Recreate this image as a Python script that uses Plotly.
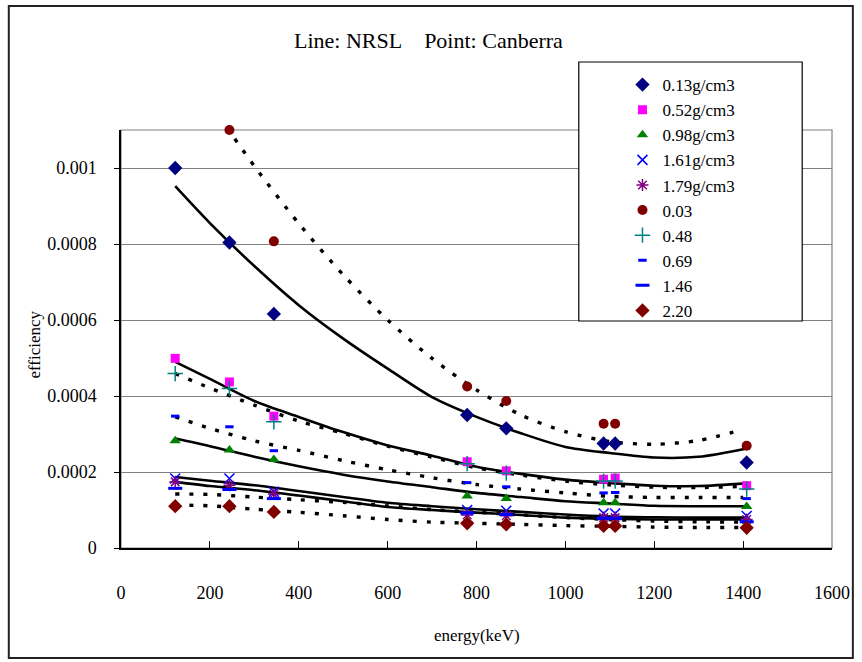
import plotly.graph_objects as go

# ---------------- data ----------------
energies_pts = [122, 244, 344, 779, 867, 1086, 1112, 1408]

# Canberra points
pts_013 = [0.00100, 0.000804, 0.000616, 0.000350, 0.000315, 0.000275, 0.000275, 0.000225]
pts_052 = [0.000499, 0.000437, 0.000347, 0.000227, 0.000203, 0.000181, 0.000184, 0.000164]
pts_098 = [0.000282, 0.000258, 0.000233, 0.000137, 0.000130, 0.000119, 0.000119, 0.000109]
pts_161 = [0.000183, 0.000183, 0.000148, 0.000100, 0.000098, 0.000091, 0.000091, 0.000084]
pts_179 = [0.000174, 0.000165, 0.000142, 0.000087, 0.000085, 0.000080, 0.000080, 0.000075]
pts_003 = [None, 0.00110, 0.000807, 0.000425, 0.000387, 0.000327, 0.000327, 0.000269]
pts_048 = [0.000459, 0.000420, 0.000332, 0.000222, 0.000197, 0.000176, 0.000176, 0.000155]
pts_069 = [0.000347, 0.000319, 0.000256, 0.000172, 0.000161, 0.000145, 0.000146, 0.000130]
pts_146 = [0.000157, 0.000154, 0.000130, 0.000092, 0.000088, 0.000078, 0.000078, 0.000069]
pts_220 = [0.000110, 0.000110, 0.000095, 0.000065, 0.000062, 0.000058, 0.000058, 0.000053]

# NRSL curves (solid)
energies_solid = [122, 200, 300, 400, 500, 600, 700, 800, 900, 1000, 1100, 1200, 1300, 1408]
line_013 = [0.000952, 0.000855, 0.000742, 0.000639, 0.000551, 0.000472, 0.000397, 0.000345,
            0.000302, 0.000266, 0.000250, 0.000238, 0.000240, 0.000262]
line_052 = [0.000490, 0.000445, 0.000387, 0.000345, 0.000305, 0.000270, 0.000243, 0.000214,
            0.000195, 0.000180, 0.000171, 0.000164, 0.000163, 0.000170]
line_098 = [0.000288, 0.000268, 0.000240, 0.000215, 0.000193, 0.000175, 0.000160, 0.000145,
            0.000134, 0.000123, 0.000117, 0.000111, 0.000110, 0.000110]
line_161 = [0.000187, 0.000177, 0.000165, 0.000150, 0.000134, 0.000119, 0.000110, 0.000102,
            0.000095, 0.000088, 0.000083, 0.000081, 0.000080, 0.000080]
line_179 = [0.000174, 0.000163, 0.000152, 0.000138, 0.000123, 0.000108, 0.000100, 0.000093,
            0.000087, 0.000080, 0.000077, 0.000075, 0.000075, 0.000075]

# NRSL curves (dotted)
energies_dot = [122, 200, 300, 400, 500, 600, 700, 800, 900, 1000, 1100, 1200, 1300, 1400]
energies_dot_003 = [256, 300, 400, 500, 600, 700, 800, 900, 1000, 1100, 1200, 1300, 1400]
line_003 = [0.001077, 0.001005, 0.000854, 0.000719, 0.000600, 0.000499, 0.000416, 0.000350,
            0.000306, 0.000280, 0.000273, 0.000283, 0.000312]
line_048 = [0.000459, 0.000421, 0.000376, 0.000334, 0.000302, 0.000268, 0.000239, 0.000211,
            0.000192, 0.000176, 0.000166, 0.000160, 0.000159, 0.000162]
line_069 = [0.000345, 0.000315, 0.000282, 0.000257, 0.000230, 0.000206, 0.000185, 0.000167,
            0.000155, 0.000145, 0.000136, 0.000133, 0.000133, 0.000133]
line_146 = [0.000142, 0.000141, 0.000134, 0.000127, 0.000120, 0.000111, 0.000101, 0.000094,
            0.000087, 0.000080, 0.000075, 0.000071, 0.000069, 0.000068]
line_220 = [0.000113, 0.000111, 0.000102, 0.000094, 0.000085, 0.000075, 0.000068, 0.000065,
            0.000062, 0.000059, 0.000057, 0.000055, 0.000054, 0.000054]

y_tickvals = [0, 0.0002, 0.0004, 0.0006, 0.0008, 0.001]
y_ticktext = ["0", "0.0002", "0.0004", "0.0006", "0.0008", "0.001"]
x_tickvals = [0, 200, 400, 600, 800, 1000, 1200, 1400, 1600]

FONT = "Liberation Serif, DejaVu Serif, serif"

fig = go.Figure()

# ---- lines ----
solid = [(energies_solid, line_013), (energies_solid, line_052), (energies_solid, line_098),
         (energies_solid, line_161), (energies_solid, line_179)]
dotted = [(energies_dot_003, line_003), (energies_dot, line_048), (energies_dot, line_069),
          (energies_dot, line_146), (energies_dot, line_220)]
for xs, ys in solid:
    fig.add_trace(go.Scatter(x=xs, y=ys, mode="lines", showlegend=False, hoverinfo="skip",
                             line=dict(color="black", width=2.6, shape="spline", smoothing=0.8)))
for xs, ys in dotted:
    fig.add_trace(go.Scatter(x=xs, y=ys, mode="lines", showlegend=False, hoverinfo="skip",
                             line=dict(color="black", width=3.4, shape="spline", smoothing=0.8,
                                       dash="4px,10px")))

# ---- points ----
series = [
    ("0.13g/cm3", pts_013, dict(symbol="diamond", color="#000080", size=11)),
    ("0.52g/cm3", pts_052, dict(symbol="square", color="#FF00FF", size=9)),
    ("0.98g/cm3", pts_098, dict(symbol="triangle-up", color="#008000", size=10)),
    ("1.61g/cm3", pts_161, dict(symbol="x-thin-open", color="#0000FF", size=10,
                                line=dict(color="#0000FF", width=1.5))),
    ("1.79g/cm3", pts_179, dict(symbol="asterisk-open", color="#800080", size=10,
                                line=dict(color="#800080", width=1.5))),
    ("0.03", pts_003, dict(symbol="circle", color="#800000", size=10)),
    ("0.48", pts_048, dict(symbol="cross-thin-open", color="#008080", size=11,
                           line=dict(color="#008080", width=1.5))),
    ("0.69", pts_069, dict(symbol="line-ew-open", color="#0000FF", size=6,
                           line=dict(color="#0000FF", width=3))),
    ("1.46", pts_146, dict(symbol="line-ew-open", color="#0000FF", size=10,
                           line=dict(color="#0000FF", width=3))),
    ("2.20", pts_220, dict(symbol="diamond", color="#800000", size=11)),
]
for name, ys, mk in series:
    fig.add_trace(go.Scatter(x=energies_pts, y=ys, mode="markers", name=name, marker=mk,
                             cliponaxis=False))

# plot-area gray border, legend box, outer frame
fig.add_shape(type="rect", xref="paper", yref="paper", x0=0, y0=0, x1=1, y1=1,
              line=dict(color="#808080", width=1.2), layer="below")
fig.add_shape(type="rect", xref="paper", yref="paper",
              x0=(582 - 121) / 716, x1=(807 - 121) / 716,
              y0=(548 - 321) / 418, y1=(548 - 62) / 418,
              line=dict(color="black", width=1.2), fillcolor="white", layer="above")
fig.add_shape(type="rect", xref="paper", yref="paper",
              x0=(8 - 121) / 716, x1=(858 - 121) / 716,
              y0=(548 - 658) / 418, y1=(548 - 6) / 418,
              line=dict(color="#222222", width=2), layer="above")

fig.add_annotation(text="efficiency", xref="paper", yref="paper",
                   x=(33 - 121) / 716, y=(548 - 345) / 418, textangle=-90, showarrow=False,
                   xanchor="center", yanchor="middle",
                   font=dict(family=FONT, size=17, color="black"))
fig.add_annotation(text="energy(keV)", xref="paper", yref="paper",
                   x=0.5, y=(548 - 635) / 418, showarrow=False,
                   xanchor="center", yanchor="middle",
                   font=dict(family=FONT, size=17, color="black"))

fig.update_layout(
    width=862, height=662,
    margin=dict(l=121, r=25, t=130, b=114),
    paper_bgcolor="white", plot_bgcolor="white",
    title=dict(text="Line: NRSL\u00a0\u00a0\u00a0\u00a0Point: Canberra", x=0.497, xanchor="center",
               y=1 - 40 / 662, yanchor="middle", yref="container",
               font=dict(family=FONT, size=22, color="black")),
    font=dict(family=FONT, color="black"),
    showlegend=True,
    legend=dict(x=(626 - 121) / 716, y=(548 - 67) / 418, xanchor="left", yanchor="top",
                bgcolor="rgba(0,0,0,0)", borderwidth=0,
                font=dict(family=FONT, size=17, color="black"), tracegroupgap=0),
    xaxis=dict(range=[0, 1600], tickvals=x_tickvals, showgrid=False, zeroline=False,
               showline=True, linecolor="black", linewidth=1.5,
               ticks="inside", ticklen=7, tickcolor="black",
               ticklabelstandoff=28,
               tickfont=dict(family=FONT, size=18, color="black")),
    yaxis=dict(range=[0, 0.0011], tickvals=y_tickvals, ticktext=y_ticktext,
               showgrid=True, gridcolor="#808080", gridwidth=1, zeroline=False,
               showline=True, linecolor="black", linewidth=1.5,
               ticks="outside", ticklen=5, tickcolor="black",
               ticklabelstandoff=14,
               tickfont=dict(family=FONT, size=18, color="black")),
)

fig.write_html("out.html")
